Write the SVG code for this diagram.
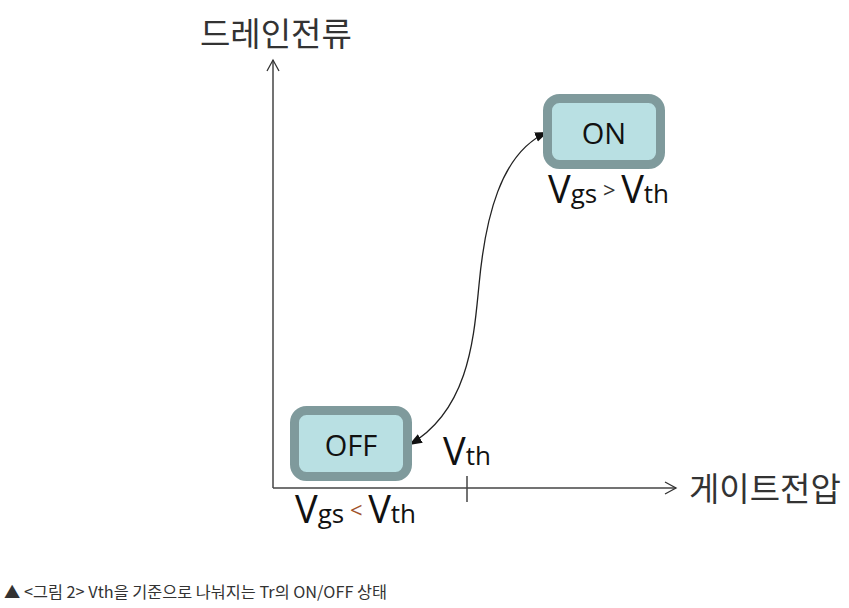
<svg xmlns="http://www.w3.org/2000/svg" width="849" height="608" viewBox="0 0 849 608">
<defs>
<marker id="open" markerWidth="14" markerHeight="14" refX="12" refY="7" orient="auto" markerUnits="userSpaceOnUse"><path d="M1,1 L12,7 L1,13" fill="none" stroke="#333" stroke-width="1.3"/></marker>
<marker id="solid" markerWidth="14" markerHeight="12" refX="13" refY="6" orient="auto-start-reverse" markerUnits="userSpaceOnUse"><path d="M0,1 L13,6 L0,11 Z" fill="#111"/></marker>
</defs>
<style>
.box{fill:#b9e0e3;stroke:#7f9a9c;stroke-width:9}
.lbl{font-family:"Open Sans","Liberation Sans",sans-serif;fill:#111}
.kr{font-family:"Noto Sans CJK KR","Noto Sans",sans-serif;fill:#333}
.ax{stroke:#444;stroke-width:1.5;fill:none}
</style>
<rect width="849" height="608" fill="#fff"/>
<g id="connectors">
<path class="ax" d="M273,488 V60" marker-end="url(#open)"/>
<path class="ax" d="M273,488 H676" marker-end="url(#open)"/>
<path class="ax" d="M467,476 V502"/>
<path d="M409,445 C470,410 474,335 479,285 C485,220 500,152 548,132" fill="none" stroke="#222" stroke-width="1.3" marker-start="url(#solid)" marker-end="url(#solid)"/>
</g>
<g id="y-label"><text class="kr" x="200" y="46" font-size="33">드레인전류</text></g>
<g id="x-label"><text class="kr" x="689" y="501" font-size="33">게이트전압</text></g>
<g id="on">
<rect class="box" x="547.5" y="98.5" width="113" height="66" rx="12"/>
<text class="lbl" x="604" y="144" font-size="29" text-anchor="middle">ON</text>
<text class="lbl" x="548" y="203" font-size="38">V<tspan font-size="26">gs</tspan><tspan font-size="22" dy="-5" fill="#333"> &gt; </tspan><tspan dy="5">V</tspan><tspan font-size="26">th</tspan></text>
</g>
<g id="off">
<rect class="box" x="294.5" y="410.5" width="113" height="66" rx="12"/>
<text class="lbl" x="351" y="456" font-size="29" text-anchor="middle">OFF</text>
<text class="lbl" x="295" y="523" font-size="38">V<tspan font-size="26">gs</tspan><tspan font-size="22" dy="-5" fill="#a0522d"> &lt; </tspan><tspan dy="5">V</tspan><tspan font-size="26">th</tspan></text>
</g>
<g id="vth"><text class="lbl" x="443" y="465" font-size="38">V<tspan font-size="26">th</tspan></text></g>
<g id="caption"><text class="kr" x="4" y="598" font-size="16.3" fill="#555">▲ &lt;그림 2&gt; Vth을 기준으로 나눠지는 Tr의 ON/OFF 상태</text></g>
</svg>
